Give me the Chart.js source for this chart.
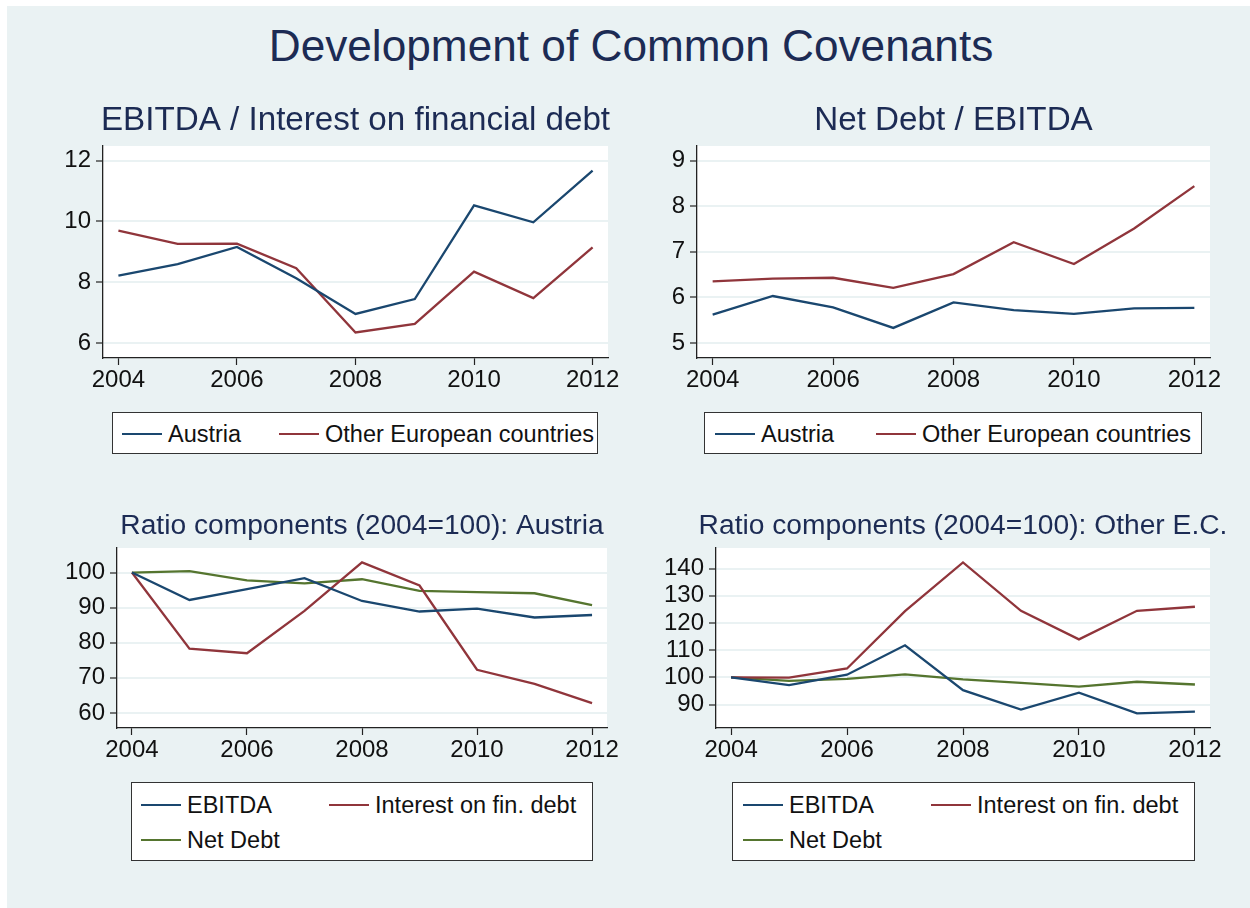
<!DOCTYPE html>
<html>
<head>
<meta charset="utf-8">
<title>Development of Common Covenants</title>
<script src="https://cdn.jsdelivr.net/npm/chart.js@4.4.1/dist/chart.umd.min.js"></script>
<style>
    body { margin: 0; background: #fff; width: 1250px; height: 908px; overflow: hidden; font-family: "Liberation Sans", Arial, sans-serif; }
    #frame { position: absolute; left: 7px; top: 6px; width: 1243px; height: 902px; background: #EAF2F3; }
    #mainTitle { position: absolute; left: 10px; top: 24px; width: 1242px; margin: 0; text-align: center; font-size: 44.2px; line-height: 1; font-weight: normal; color: #1c2b54; }
    canvas { position: absolute; }
    .legend { position: absolute; box-sizing: border-box; background: #fff; border: 1.5px solid #333; }
    .legend .item { position: absolute; height: 30px; display: flex; align-items: center; white-space: nowrap; }
    .legend .swatch { display: inline-block; width: 40px; height: 2.2px; margin-right: 6px; }
    .legend .label { font-size: 23.5px; color: #111; }
</style>
</head>
<body>
<div id="frame"></div>
<h1 id="mainTitle">Development of Common Covenants</h1>

<canvas id="icChart" width="610" height="300" style="left:20px;top:95px"></canvas>
<canvas id="ndChart" width="610" height="300" style="left:620px;top:95px"></canvas>
<canvas id="atChart" width="610" height="270" style="left:20px;top:495px"></canvas>
<canvas id="ecChart" width="620" height="270" style="left:620px;top:495px"></canvas>

<div id="icLegend" class="legend" style="left:112px;top:412px;width:486px;height:42px"></div>
<div id="ndLegend" class="legend" style="left:704px;top:412px;width:498px;height:42px"></div>
<div id="atLegend" class="legend" style="left:131px;top:782px;width:462px;height:79px"></div>
<div id="ecLegend" class="legend" style="left:732px;top:782px;width:463px;height:79px"></div>

<script>
// years and tick labels
const years = [2004, 2005, 2006, 2007, 2008, 2009, 2010, 2011, 2012];
const xTicks = [2004, 2006, 2008, 2010, 2012];

// EBITDA / interest on financial debt
const icAustria = [8.22, 8.60, 9.16, 8.13, 6.96, 7.45, 10.53, 9.97, 11.67];
const icOther = [9.70, 9.26, 9.27, 8.46, 6.35, 6.63, 8.35, 7.48, 9.15];
const icTicks = [6, 8, 10, 12];

// net debt / EBITDA
const ndAustria = [5.62, 6.03, 5.78, 5.33, 5.89, 5.72, 5.64, 5.76, 5.77];
const ndOther = [6.35, 6.41, 6.43, 6.21, 6.51, 7.21, 6.73, 7.51, 8.44];
const ndTicks = [5, 6, 7, 8, 9];

// ratio components, Austria (2004=100)
const atEbitda = [100, 92.2, 95.3, 98.4, 91.9, 88.9, 89.7, 87.2, 87.9];
const atInterest = [100, 78.3, 77.0, 89.1, 102.9, 96.3, 72.3, 68.3, 62.8];
const atNetDebt = [100, 100.4, 97.8, 96.9, 98.1, 94.8, 94.4, 94.1, 90.7];
const atTicks = [60, 70, 80, 90, 100];

// ratio components, other European countries (2004=100)
const ecEbitda = [100, 97.2, 101.0, 111.8, 95.3, 88.2, 94.4, 86.8, 87.4];
const ecInterest = [100, 99.9, 103.3, 124.4, 142.3, 124.5, 114.0, 124.5, 126.0];
const ecNetDebt = [100, 98.7, 99.5, 101.1, 99.3, 98.0, 96.6, 98.4, 97.4];
const ecTicks = [90, 100, 110, 120, 130, 140];

const NAVY = '#1a476f';
const MAROON = '#90353b';
const GREEN = '#55752f';
const FONT = '"Liberation Sans", Arial, sans-serif';

// white plot region behind the lines
const plotBackground = {
    id: 'plotBackground',
    beforeDraw(chart) {
        const a = chart.chartArea;
        const ctx = chart.ctx;
        ctx.save();
        ctx.fillStyle = '#fff';
        ctx.fillRect(a.left, a.top, a.right - a.left, a.bottom - a.top);
        ctx.restore();
    }
};

// panel title centred over the plot region; it may run wider than the plot
const panelTitle = {
    id: 'panelTitle',
    afterDraw(chart, args, opts) {
        if (!opts.text) return;
        const a = chart.chartArea;
        const ctx = chart.ctx;
        ctx.save();
        ctx.font = `${opts.size}px ${FONT}`;
        ctx.fillStyle = '#1c2b54';
        ctx.textAlign = 'center';
        ctx.textBaseline = 'middle';
        ctx.fillText(opts.text, (a.left + a.right) / 2, opts.y);
        ctx.restore();
    }
};

function makePanel(id, p) {
    return new Chart(document.getElementById(id), {
        type: 'line',
        data: {
            datasets: p.series.map(s => ({
                label: s.label,
                data: years.map((y, i) => ({ x: y, y: s.values[i] })),
                borderColor: s.color,
                borderWidth: 2.3,
                pointRadius: 0,
                tension: 0,
                fill: false
            }))
        },
        options: {
            responsive: false,
            animation: false,
            layout: { padding: { top: p.padTop, right: p.padRight, bottom: 0, left: 0 } },
            plugins: {
                legend: { display: false },
                tooltip: { enabled: false },
                title: { display: false },
                panelTitle: { text: p.title, size: p.titleSize, y: p.titleY }
            },
            scales: {
                x: {
                    type: 'linear',
                    min: 2003.74,
                    max: 2012.26,
                    afterBuildTicks: s => { s.ticks = xTicks.map(v => ({ value: v })); },
                    afterFit: s => { s.height = 37; },
                    grid: { drawOnChartArea: false, drawTicks: true, tickLength: 7, tickColor: '#222', tickWidth: 1.2 },
                    border: { display: true, color: '#222', width: 1.3 },
                    ticks: { color: '#111', font: { family: FONT, size: 24 }, padding: 1, maxRotation: 0, autoSkip: false, callback: v => String(v) }
                },
                y: {
                    min: p.yMin,
                    max: p.yMax,
                    afterBuildTicks: s => { s.ticks = p.yTicks.map(v => ({ value: v })); },
                    afterFit: s => { s.width = p.yWidth; },
                    grid: { color: '#EAF2F3', lineWidth: 2, drawTicks: true, tickLength: 7, tickColor: '#222', tickWidth: 1.2 },
                    border: { display: true, color: '#222', width: 1.3 },
                    ticks: { color: '#111', font: { family: FONT, size: 24 }, padding: 5, autoSkip: false, callback: v => String(v) }
                }
            }
        },
        plugins: [plotBackground, panelTitle]
    });
}

// boxed legend, two columns, row-major
function makeLegend(id, series, colX, rowY) {
    const box = document.getElementById(id);
    box.innerHTML = series.map((s, i) => {
        const left = colX[i % 2];
        const top = rowY[Math.floor(i / 2)] - 15;
        return `<div class="item" style="left:${left}px;top:${top}px">
                    <span class="swatch" style="background:${s.color}"></span><span class="label">${s.label}</span>
                </div>`;
    }).join('');
}

const icSeries = [
    { label: 'Austria', values: icAustria, color: NAVY },
    { label: 'Other European countries', values: icOther, color: MAROON }
];
const ndSeries = [
    { label: 'Austria', values: ndAustria, color: NAVY },
    { label: 'Other European countries', values: ndOther, color: MAROON }
];
const atSeries = [
    { label: 'EBITDA', values: atEbitda, color: NAVY },
    { label: 'Interest on fin. debt', values: atInterest, color: MAROON },
    { label: 'Net Debt', values: atNetDebt, color: GREEN }
];
const ecSeries = [
    { label: 'EBITDA', values: ecEbitda, color: NAVY },
    { label: 'Interest on fin. debt', values: ecInterest, color: MAROON },
    { label: 'Net Debt', values: ecNetDebt, color: GREEN }
];

makePanel('icChart', {
    title: 'EBITDA / Interest on financial debt', titleSize: 33.2, titleY: 26, padTop: 51,
    series: icSeries, yMin: 5.51, yMax: 12.48, yTicks: icTicks, yWidth: 83, padRight: 22
});
makePanel('ndChart', {
    title: 'Net Debt / EBITDA', titleSize: 33.2, titleY: 26, padTop: 51,
    series: ndSeries, yMin: 4.67, yMax: 9.32, yTicks: ndTicks, yWidth: 77, padRight: 20
});
makePanel('atChart', {
    title: 'Ratio components (2004=100): Austria', titleSize: 28.2, titleY: 31, padTop: 53,
    series: atSeries, yMin: 55.7, yMax: 107.0, yTicks: atTicks, yWidth: 97, padRight: 23
});
makePanel('ecChart', {
    title: 'Ratio components (2004=100): Other E.C.', titleSize: 28.2, titleY: 31, padTop: 53,
    series: ecSeries, yMin: 81.4, yMax: 147.6, yTicks: ecTicks, yWidth: 96, padRight: 30
});

makeLegend('icLegend', icSeries, [9, 166], [21]);
makeLegend('ndLegend', ndSeries, [10, 171], [21]);
makeLegend('atLegend', atSeries, [9, 197], [22, 57]);
makeLegend('ecLegend', ecSeries, [10, 198], [22, 57]);
</script>
</body>
</html>
